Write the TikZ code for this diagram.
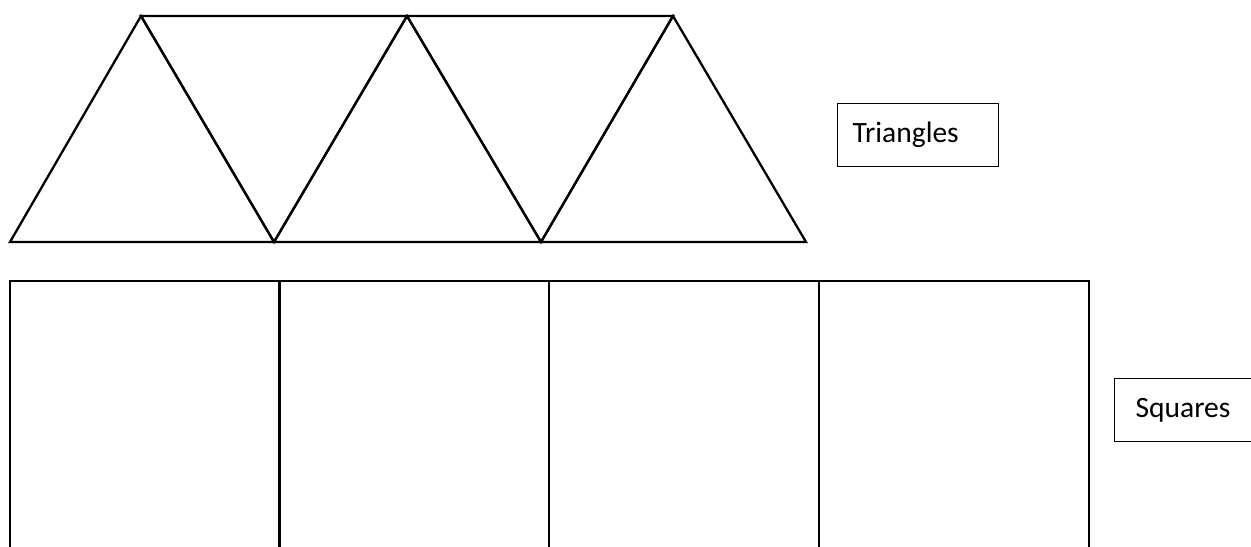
\documentclass[tikz,border=0pt]{standalone}
\usepackage{fontspec}
\setmainfont{Carlito}
\usetikzlibrary{positioning}

\begin{document}
\begin{tikzpicture}[x=0.02cm,y=-0.02cm,line width=1.3pt,
  tagbox/.style={draw,line width=0.7pt,font=\fontsize{16.8}{20}\selectfont,
    align=left,minimum height=1.27cm,anchor=west}]
\useasboundingbox (0,0) rectangle (1251,547);
\clip (0,0) rectangle (1251,547);
% strip of triangles
\foreach \i/\x in {0/10,1/274,2/541,3/806} \coordinate (p\i) at (\x,242);
\foreach \i/\x in {1/141,2/407,3/673} \coordinate (q\i) at (\x,16);
\foreach \i [evaluate=\i as \j using int(\i+1)] in {0,1,2}
  \draw (p\i) -- (q\j) -- (p\j) -- cycle;
\foreach \i [evaluate=\i as \j using int(\i+1)] in {1,2}
  \draw (q\i) -- (q\j) -- (p\i) -- cycle;
% row of squares
\foreach \x in {10,279,549,819}
  \draw (\x,281) rectangle +(270,320);
% labels
\node[tagbox,inner xsep=0.3cm,text width=2.62cm] (tri) at (837,135) {Triangles};
\node[tagbox,inner xsep=0.42cm,text width=1.9cm] (sq) at (1114,410) {Squares};
\end{tikzpicture}
\end{document}
